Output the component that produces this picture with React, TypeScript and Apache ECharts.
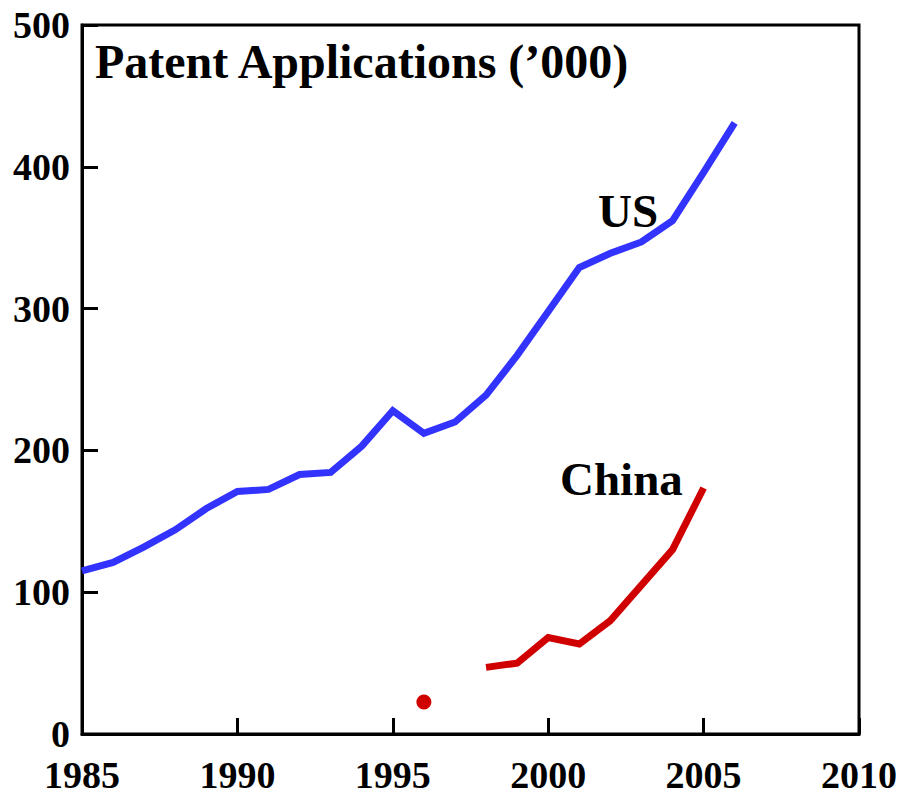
import React, { useEffect, useRef } from "react";
import * as echarts from "echarts";

const usYears = [1985, 1986, 1987, 1988, 1989, 1990, 1991, 1992, 1993, 1994, 1995, 1996, 1997, 1998, 1999, 2000, 2001, 2002, 2003, 2004, 2005, 2006];
const usValues = [115, 121, 132, 144, 159, 171, 172.5, 183, 184.5, 203, 228, 212, 220, 239, 267, 298, 329, 339, 347, 362, 396, 431];
const chinaYears = [1998, 1999, 2000, 2001, 2002, 2003, 2004, 2005];
const chinaValues = [47, 50, 68, 63.5, 80, 105, 130, 173.5];
const chinaEarlyYear = [1996];
const chinaEarlyValue = [22.5];
const xTicks = [1985, 1990, 1995, 2000, 2005, 2010];
const yTicks = [0, 100, 200, 300, 400, 500];
const titleText = "Patent Applications (\u2019000)";
const labelUS = "US";
const labelChina = "China";

const FONT = "'Liberation Serif', 'Times New Roman', serif";

export default function App() {
  const ref = useRef<HTMLDivElement>(null);
  useEffect(() => {
    document.body.style.margin = "0";
    const chart = echarts.init(ref.current!, undefined, { renderer: "svg" });
    const bold = { fontFamily: FONT, fontWeight: "bold" as const, color: "#000" };
    chart.setOption({
      animation: false,
      grid: {
        left: 82, right: 46, top: 25, bottom: 64,
        show: true, borderColor: "#000", borderWidth: 3, backgroundColor: "transparent",
      },
      xAxis: {
        type: "value",
        min: xTicks[0], max: xTicks[xTicks.length - 1], interval: 5,
        axisLine: { show: true, lineStyle: { color: "#000", width: 3 } },
        axisTick: { show: true, inside: true, length: 16, lineStyle: { color: "#000", width: 3 } },
        splitLine: { show: false },
        axisLabel: { ...bold, fontSize: 38, lineHeight: 30, margin: 26, showMinLabel: true, showMaxLabel: true, formatter: (v: number) => String(v) },
      },
      yAxis: {
        type: "value",
        min: yTicks[0], max: yTicks[yTicks.length - 1], interval: 100,
        axisLine: { show: true, lineStyle: { color: "#000", width: 3 } },
        axisTick: { show: true, inside: true, length: 16, lineStyle: { color: "#000", width: 3 } },
        splitLine: { show: false },
        axisLabel: { ...bold, fontSize: 38, lineHeight: 28, margin: 12 },
      },
      series: [
        {
          type: "line",
          data: usYears.map((y, i) => [y, usValues[i]]),
          showSymbol: false,
          lineStyle: { color: "#3333ff", width: 7, join: "miter" },
          itemStyle: { color: "#3333ff" },
        },
        {
          type: "line",
          data: chinaYears.map((y, i) => [y, chinaValues[i]]),
          showSymbol: false,
          lineStyle: { color: "#d00000", width: 7, join: "miter" },
          itemStyle: { color: "#d00000" },
        },
        {
          type: "scatter",
          data: chinaEarlyYear.map((y, i) => [y, chinaEarlyValue[i]]),
          symbol: "circle",
          symbolSize: 15,
          itemStyle: { color: "#d00000", opacity: 1 },
        },
      ],
      graphic: [
        {
          type: "text", x: 95, y: 61,
          style: { text: titleText, font: `bold 48px ${FONT}`, fill: "#000", textAlign: "left", textVerticalAlign: "middle" },
        },
        {
          type: "text", x: 598, y: 211,
          style: { text: labelUS, font: `bold 47px ${FONT}`, fill: "#000", textAlign: "left", textVerticalAlign: "middle" },
        },
        {
          type: "text", x: 560, y: 479,
          style: { text: labelChina, font: `bold 47px ${FONT}`, fill: "#000", textAlign: "left", textVerticalAlign: "middle" },
        },
      ],
    });
    return () => chart.dispose();
  }, []);
  return <div ref={ref} style={{ width: 905, height: 798 }} />;
}
